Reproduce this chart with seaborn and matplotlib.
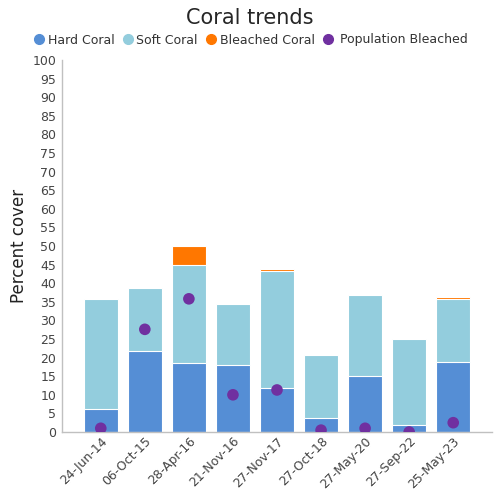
import matplotlib
matplotlib.use("Agg")
import matplotlib.pyplot as plt
from matplotlib.lines import Line2D
import seaborn as sns
import numpy as np
import pandas as pd

dates = ["24-Jun-14", "06-Oct-15", "28-Apr-16", "21-Nov-16", "27-Nov-17",
         "27-Oct-18", "27-May-20", "27-Sep-22", "25-May-23"]
hard_coral = [6.2, 21.8, 18.5, 18.0, 11.8, 3.8, 15.0, 1.9, 18.8]
soft_coral = [29.5, 16.9, 26.4, 16.4, 31.5, 16.9, 21.8, 23.1, 16.9]
bleached_coral = [0.0, 0.0, 5.1, 0.0, 0.5, 0.0, 0.0, 0.0, 0.6]
population_bleached = [1.0, 27.6, 35.8, 10.0, 11.3, 0.5, 1.0, 0.0, 2.5]

c_hard = "#558ed5"
c_soft = "#93cddd"
c_bleach = "#ff7700"
c_pop = "#7030a0"

df = pd.DataFrame({
    "date": dates,
    "hard": hard_coral,
    "soft": soft_coral,
    "bleach": bleached_coral,
    "pop": population_bleached,
})
df["s1"] = df["hard"]
df["s2"] = df["hard"] + df["soft"]
df["s3"] = df["s2"] + df["bleach"]

sns.set_style("white")
plt.rcParams['font.family'] = ['DejaVu Sans']

fig = plt.figure(figsize=(5, 5), dpi=100)
ax = fig.add_axes([0.124, 0.136, 0.86, 0.744])

for col, color in [("s3", c_bleach), ("s2", c_soft), ("s1", c_hard)]:
    sns.barplot(data=df, x="date", y=col, color=color, width=0.77,
                edgecolor="white", linewidth=0.8, saturation=1, ax=ax)

sns.scatterplot(data=df, x="date", y="pop", color=c_pop, s=70,
                edgecolor="none", zorder=5, ax=ax)

ax.set_ylim(0, 100)
ax.set_xlim(-0.88, 8.88)
ax.set_yticks(np.arange(0, 101, 5))
ax.tick_params(axis="y", labelsize=9, colors="#444444", length=0, pad=4)
ax.tick_params(axis="x", labelsize=9, colors="#444444", length=0, pad=2)
plt.setp(ax.get_xticklabels(), rotation=45, ha="right", rotation_mode="anchor")
ax.set_xlabel("")
ax.set_ylabel("Percent cover", fontsize=12, color="#222222", labelpad=3)
for s in ["top", "right"]:
    ax.spines[s].set_visible(False)
for s in ["left", "bottom"]:
    ax.spines[s].set_color("#c0c0c0")
    ax.spines[s].set_linewidth(1)

fig.suptitle("Coral trends", fontsize=15, y=0.985)

handles = [Line2D([], [], marker="o", linestyle="", color=c, markersize=7)
           for c in [c_hard, c_soft, c_bleach, c_pop]]
labels = ["Hard Coral", "Soft Coral", "Bleached Coral", " Population Bleached"]
leg = fig.legend(handles, labels, loc="center", bbox_to_anchor=(0.5, 0.92),
                 ncol=4, frameon=False, fontsize=9, handletextpad=0.05,
                 columnspacing=0.5, borderaxespad=0, handlelength=1.2)
for t in leg.get_texts():
    t.set_color("#333333")

fig.savefig("out.png", dpi=100)
